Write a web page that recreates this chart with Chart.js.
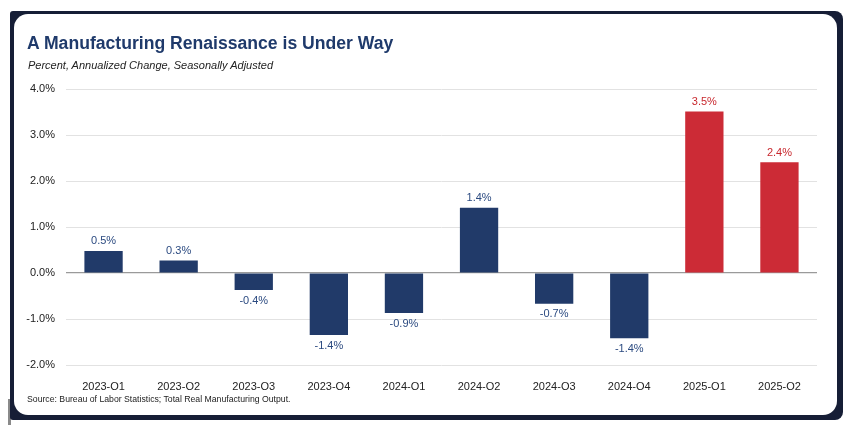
<!DOCTYPE html>
<html>
<head>
<meta charset="utf-8">
<script src="https://cdn.jsdelivr.net/npm/chart.js@4.4.1/dist/chart.umd.min.js"></script>
<style>
    html, body { margin: 0; padding: 0; background: #fff; }
    body { width: 852px; height: 428px; position: relative; overflow: hidden; font-family: "Liberation Sans", Arial, sans-serif; }
    .frame { position: absolute; left: 10px; top: 11px; width: 833px; height: 409px; background: #161e36; border-radius: 3px 8px 8px 3px; }
    .card { position: absolute; left: 4px; top: 3px; right: 6px; bottom: 5px; background: #fff; border-radius: 14px; }
    .tick-mark { position: absolute; left: 8px; top: 399px; width: 3px; height: 26px; background: #8a8a8a; }
    #chart-canvas { position: absolute; left: 0; top: 0; }
    .title { position: absolute; left: 27px; top: 33px; font-size: 17.6px; font-weight: 700; color: #1f3a6b; white-space: nowrap; }
    .subtitle { position: absolute; left: 28px; top: 59px; font-size: 11px; font-style: italic; color: #222; white-space: nowrap; }
    .source { position: absolute; left: 27px; top: 394px; font-size: 8.7px; color: #222; white-space: nowrap; }
</style>
</head>
<body>
    <div class="tick-mark"></div>
    <div class="frame"><div class="card"></div></div>
    <canvas id="chart-canvas" width="852" height="428"></canvas>
    <div class="title">A Manufacturing Renaissance is Under Way</div>
    <div class="subtitle">Percent, Annualized Change, Seasonally Adjusted</div>
    <div class="source">Source: Bureau of Labor Statistics; Total Real Manufacturing Output.</div>

<script>
const quarters = ['2023-Q1', '2023-Q2', '2023-Q3', '2023-Q4', '2024-Q1', '2024-Q2', '2024-Q3', '2024-Q4', '2025-Q1', '2025-Q2'];
const growth = [0.48, 0.27, -0.37, -1.35, -0.87, 1.42, -0.67, -1.42, 3.51, 2.41];
const growthLabels = ['0.5%', '0.3%', '-0.4%', '-1.4%', '-0.9%', '1.4%', '-0.7%', '-1.4%', '3.5%', '2.4%'];
const isRecent = [false, false, false, false, false, false, false, false, true, true];
const yTicks = [-2, -1, 0, 1, 2, 3, 4];

const NAVY = '#213a69';
const RED = '#cc2b36';

// value labels above / below each bar
const barLabels = {
    id: 'barLabels',
    afterDatasetsDraw(chart) {
        const ctx = chart.ctx;
        const meta = chart.getDatasetMeta(0);
        ctx.save();
        ctx.font = '11px "Liberation Sans", Arial, sans-serif';
        ctx.textAlign = 'center';
        meta.data.forEach((bar, i) => {
            ctx.fillStyle = isRecent[i] ? '#c8282e' : '#2b4a80';
            if (growth[i] >= 0) {
                ctx.textBaseline = 'bottom';
                ctx.fillText(growthLabels[i], bar.x, bar.y - 4);
            } else {
                ctx.textBaseline = 'top';
                ctx.fillText(growthLabels[i], bar.x, bar.y + 5);
            }
        });
        ctx.restore();
    }
};

new Chart(document.getElementById('chart-canvas').getContext('2d'), {
    type: 'bar',
    data: {
        labels: quarters,
        datasets: [{
            data: growth,
            backgroundColor: isRecent.map(r => r ? RED : NAVY),
            borderWidth: 0,
            categoryPercentage: 1,
            barPercentage: 0.51
        }]
    },
    options: {
        responsive: false,
        animation: false,
        devicePixelRatio: 1,
        layout: { padding: { top: 89, right: 35, bottom: 38, left: 0 } },
        plugins: {
            legend: { display: false },
            tooltip: { enabled: false }
        },
        scales: {
            x: {
                grid: { display: false },
                border: { display: false },
                ticks: { color: '#222', font: { size: 11, family: '"Liberation Sans", Arial, sans-serif' }, padding: 7, maxRotation: 0 },
                afterFit(scale) { scale.height = 25; }
            },
            y: {
                min: -2,
                max: 4,
                afterBuildTicks(scale) { scale.ticks = yTicks.map(v => ({ value: v })); },
                grid: {
                    drawTicks: false,
                    color: ctx => ctx.tick && ctx.tick.value === 0 ? '#9a9a9a' : '#e2e2e2',
                    lineWidth: ctx => ctx.tick && ctx.tick.value === 0 ? 1.2 : 1
                },
                border: { display: false },
                ticks: {
                    color: '#222',
                    padding: 11,
                    font: { size: 11, family: '"Liberation Sans", Arial, sans-serif' },
                    callback: v => v.toFixed(1) + '%'
                },
                afterFit(scale) { scale.width = 66; }
            }
        }
    },
    plugins: [barLabels]
});
</script>
</body>
</html>
